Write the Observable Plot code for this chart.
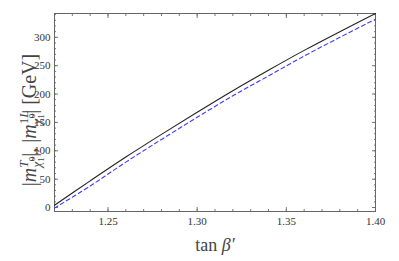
<!DOCTYPE html>
<html><head><meta charset="utf-8">
<script src="https://cdn.jsdelivr.net/npm/d3@7"></script>
<script src="https://cdn.jsdelivr.net/npm/@observablehq/plot@0.6"></script>
<style>body{margin:0;background:#fff} svg text{font-family:'Liberation Serif','DejaVu Serif',serif !important}</style>
</head><body><div id="chart"></div>
<script>
const tanBeta = [1.22, 1.24, 1.26, 1.28, 1.30, 1.32, 1.34, 1.36, 1.38, 1.40];
const mTree   = [4, 47, 89, 129, 168, 206, 242, 277, 310, 342];
const mOneLoop= [-1, 38, 80, 120, 159, 197, 232, 267, 300, 332];
const xMajor = [1.25, 1.30, 1.35, 1.40];
const yMajor = [0, 50, 100, 150, 200, 250, 300];

const tree = tanBeta.map((x,i)=>({x, y:mTree[i]}));
const loop = tanBeta.map((x,i)=>({x, y:mOneLoop[i]}));
const xMinor = d3.range(122, 141).map(v=>v/100);
const yMinor = d3.range(0, 341, 10);
const font = "'Liberation Serif', 'DejaVu Serif', serif";
const none = () => "";
const ax = {label: null, stroke: "#777", tickFormat: none};

const plot = Plot.plot({
  width: 399, height: 261,
  marginLeft: 54, marginRight: 24, marginTop: 13, marginBottom: 50,
  style: `font-family: ${font}; font-size: 11px; background: #fff; color: #333;`,
  x: {domain: [1.22, 1.40]},
  y: {domain: [-7, 342]},
  marks: [
    Plot.axisX({...ax, ticks: xMinor, tickSize: -2}),
    Plot.axisX({...ax, ticks: xMajor, tickSize: -4}),
    Plot.axisX({...ax, anchor: "top", ticks: xMinor, tickSize: -2}),
    Plot.axisX({...ax, anchor: "top", ticks: xMajor, tickSize: -4}),
    Plot.axisY({...ax, ticks: yMinor, tickSize: -2}),
    Plot.axisY({...ax, ticks: yMajor, tickSize: -4}),
    Plot.axisY({...ax, anchor: "right", ticks: yMinor, tickSize: -2}),
    Plot.axisY({...ax, anchor: "right", ticks: yMajor, tickSize: -4}),
    Plot.text(xMajor, {x: d=>d, text: d=>d.toFixed(2), frameAnchor: "bottom", dy: 13, fontFamily: font, fontSize: 11, fill: "#333"}),
    Plot.text(yMajor, {y: d=>d, text: d=>String(d), frameAnchor: "left", dx: -4, textAnchor: "end", fontFamily: font, fontSize: 11, fill: "#333"}),
    Plot.frame({stroke: "#666"}),
    Plot.line(loop, {x: "x", y: "y", curve: "catmull-rom", stroke: "#3a3aff", strokeWidth: 1.1, strokeDasharray: "4,3"}),
    Plot.line(tree, {x: "x", y: "y", curve: "catmull-rom", stroke: "#222", strokeWidth: 1.1})
  ]
});
document.getElementById("chart").appendChild(plot);

const svg = d3.select(plot);
// x label
const xl = svg.append("text").attr("x", 215).attr("y", 251).attr("text-anchor", "middle")
  .attr("font-family", font).attr("font-size", 18).attr("fill", "#444");
xl.append("tspan").text("tan ");
xl.append("tspan").attr("font-style", "italic").text("β′");

// y label
const yl = svg.append("text").attr("transform", "translate(36,120) rotate(-90)")
  .attr("text-anchor", "middle").attr("font-family", font).attr("font-size", 20).attr("fill", "#444");
yl.append("tspan").text("|");
yl.append("tspan").attr("font-style", "italic").text("m");
yl.append("tspan").attr("font-style", "italic").attr("font-size", 13).attr("dy", -8).text("T");
yl.append("tspan").attr("font-style", "italic").attr("font-size", 13).attr("dx", -7).attr("dy", 13).text("χ̃");
yl.append("tspan").attr("font-size", 9).attr("dy", 3).text("1");
yl.append("tspan").attr("font-size", 9).attr("dx", -4).attr("dy", -9).text("0");
yl.append("tspan").attr("dy", 1).text("|, |");
yl.append("tspan").attr("font-style", "italic").text("m");
yl.append("tspan").attr("font-size", 13).attr("dy", -8).text("1");
yl.append("tspan").attr("font-style", "italic").attr("font-size", 13).text("L");
yl.append("tspan").attr("font-style", "italic").attr("font-size", 13).attr("dx", -14).attr("dy", 13).text("χ̃");
yl.append("tspan").attr("font-size", 9).attr("dy", 3).text("1");
yl.append("tspan").attr("font-size", 9).attr("dx", -4).attr("dy", -9).text("0");
yl.append("tspan").attr("dy", 1).text("| [GeV]");
</script></body></html>
